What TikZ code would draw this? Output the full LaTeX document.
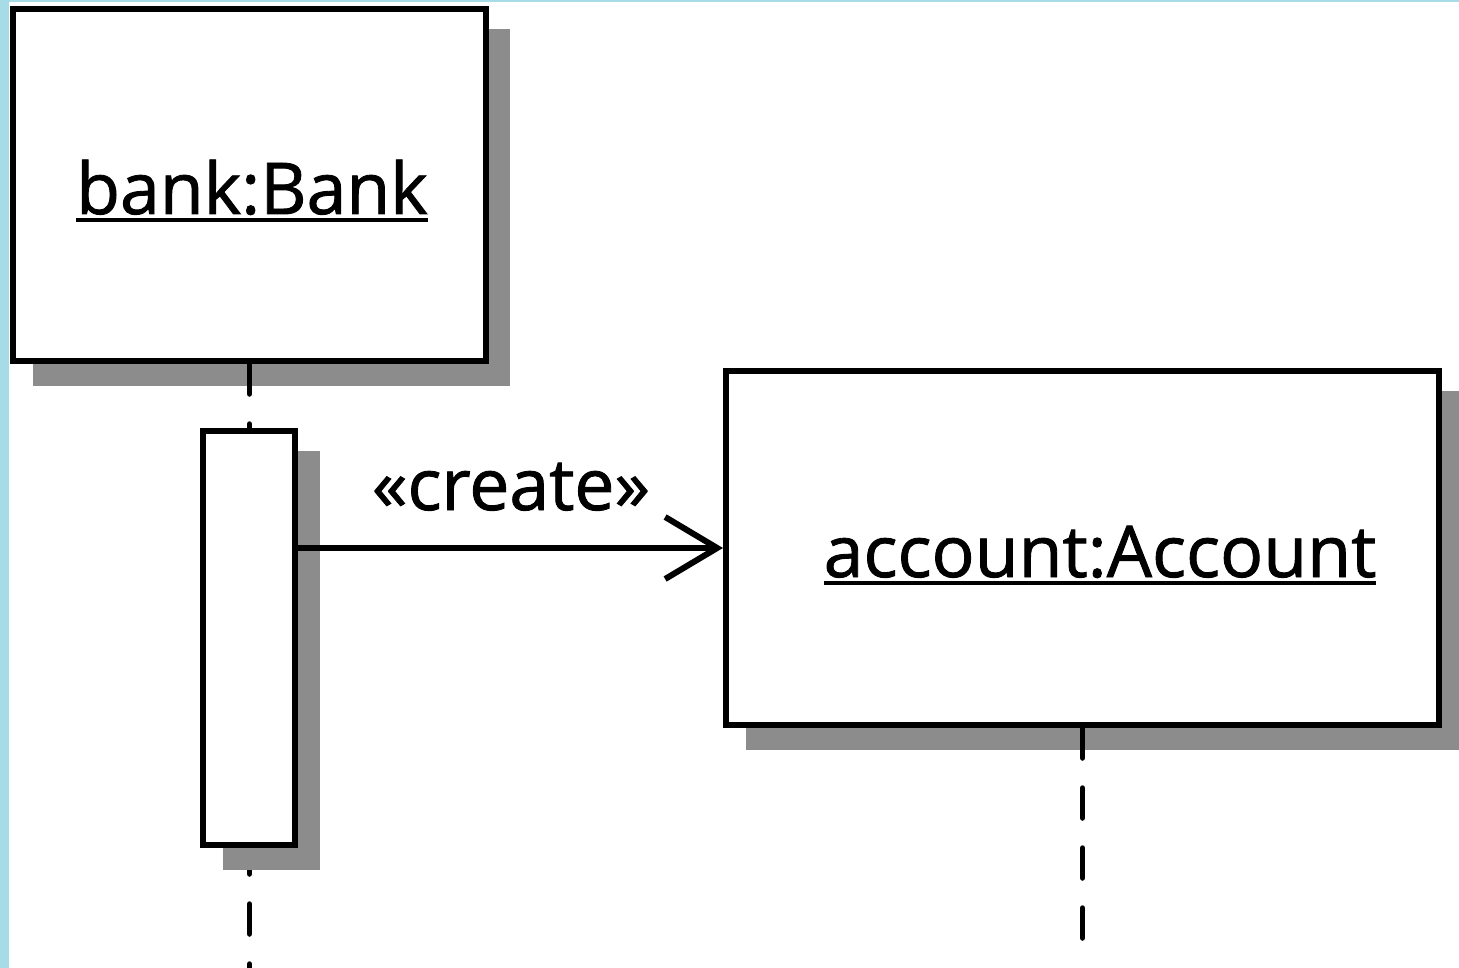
\documentclass[tikz,border=0pt]{standalone}
\usepackage{fontspec}
\setmainfont[FakeBold=1.2]{Open Sans}
\usetikzlibrary{arrows.meta}
\definecolor{frame}{HTML}{A6DCE6}
\definecolor{shadowgray}{HTML}{8C8C8C}
\newcommand\objname[1]{\vtop{\hbox{#1}\kern3pt\hrule height 4pt}}
\tikzset{
  objbox/.style={draw=black, line width=6pt, fill=white, inner sep=0pt},
  shadowbox/.style={fill=shadowgray},
  lifeline/.style={line width=5.5pt, line cap=round, dash pattern=on 30pt off 30pt},
  msg/.style={line width=6pt, -{Straight Barb[length=52pt, width=62pt, line width=6pt]}},
  objlabel/.style={font=\fontsize{71.5}{80}\selectfont},
}
\begin{document}
\begin{tikzpicture}[x=1pt,y=-1pt]
\useasboundingbox (0,0) rectangle (1459,968);
\fill[white] (0,0) rectangle (1459,968);
\fill[frame] (0,0) rectangle (9,968);
\fill[frame] (0,0) rectangle (1459,2);
% bank object
\node[objbox, minimum width=473pt, minimum height=352pt] (bank) at (249.5,185) {};
\fill[shadowbox] ([shift={(23,23)}]bank.north west) rectangle ([shift={(21,22)}]bank.south east);
\node[objbox, minimum width=473pt, minimum height=352pt] (bankfront) at (249.5,185) {};
\node[objlabel, anchor=base] (banktxt) at (252,214) {\objname{bank:Bank}};
% bank lifeline
\coordinate (bankend) at (249.5,990);
\draw[lifeline] (bankfront.south) -- (bankend);
% activation
\node[objbox, minimum width=92pt, minimum height=414pt] (act) at (249,638) {};
\fill[shadowbox] ([shift={(23,23)}]act.north west) rectangle ([shift={(22,22)}]act.south east);
\node[objbox, minimum width=92pt, minimum height=414pt] (actfront) at (249,638) {};
% account object
\node[objbox, minimum width=713pt, minimum height=354pt] (acc) at (1082.5,548) {};
\fill[shadowbox] ([shift={(23,23)}]acc.north west) rectangle ([shift={(22,22)}]acc.south east);
\node[objbox, minimum width=713pt, minimum height=354pt] (accfront) at (1082.5,548) {};
\node[objlabel, anchor=base] (acctxt) at (1100,577) {\objname{account:Account}};
\coordinate (accend) at (1082.5,940);
\draw[lifeline] (accfront.south) -- (accend);
% message
\draw[msg] (actfront.east |- 0,548) -- (accfront.west |- 0,548);
\node[objlabel, anchor=base] (create) at (511,510) {«create»};
\end{tikzpicture}
\end{document}
